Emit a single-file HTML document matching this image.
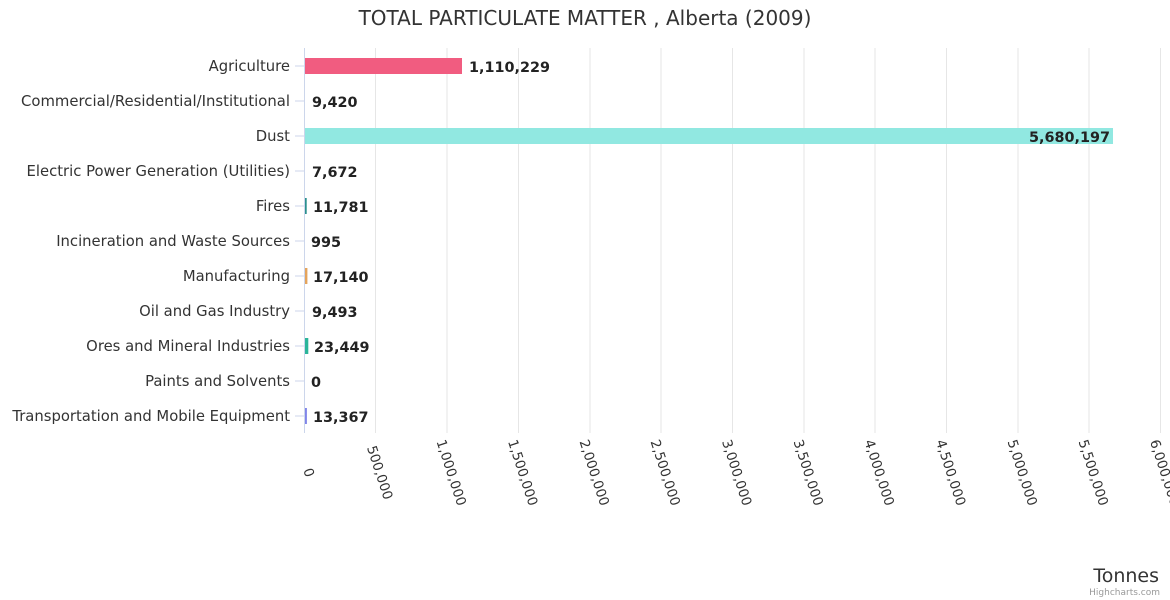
<!DOCTYPE html>
<html><head><style>body{margin:0;background:#fff}svg{display:block}text{font-family:"DejaVu Sans","Liberation Sans",sans-serif}</style></head><body>
<svg width="1170" height="600" xmlns="http://www.w3.org/2000/svg">
<text x="585" y="25" text-anchor="middle" font-size="20" fill="#333">TOTAL PARTICULATE MATTER , Alberta (2009)</text>
<g stroke="#e6e6e6" stroke-width="1">
<line x1="375.5" y1="48" x2="375.5" y2="433"/><line x1="447" y1="48" x2="447" y2="433"/><line x1="518.5" y1="48" x2="518.5" y2="433"/><line x1="590" y1="48" x2="590" y2="433"/><line x1="661" y1="48" x2="661" y2="433"/><line x1="732.5" y1="48" x2="732.5" y2="433"/><line x1="804" y1="48" x2="804" y2="433"/><line x1="875" y1="48" x2="875" y2="433"/><line x1="946.5" y1="48" x2="946.5" y2="433"/><line x1="1018" y1="48" x2="1018" y2="433"/><line x1="1089" y1="48" x2="1089" y2="433"/><line x1="1160.5" y1="48" x2="1160.5" y2="433"/>
</g>
<line x1="304.5" y1="48" x2="304.5" y2="433" stroke="#ccd6eb"/>
<g stroke="#ccd6eb"><line x1="295" y1="66" x2="304" y2="66"/><line x1="295" y1="101" x2="304" y2="101"/><line x1="295" y1="136" x2="304" y2="136"/><line x1="295" y1="171" x2="304" y2="171"/><line x1="295" y1="206" x2="304" y2="206"/><line x1="295" y1="241" x2="304" y2="241"/><line x1="295" y1="276" x2="304" y2="276"/><line x1="295" y1="311" x2="304" y2="311"/><line x1="295" y1="346" x2="304" y2="346"/><line x1="295" y1="381" x2="304" y2="381"/><line x1="295" y1="416" x2="304" y2="416"/></g>
<g font-size="14.8" fill="#333" text-anchor="end">
<text x="290" y="71">Agriculture</text><text x="290" y="106" textLength="269" lengthAdjust="spacingAndGlyphs">Commercial/Residential/Institutional</text><text x="290" y="141">Dust</text><text x="290" y="176">Electric Power Generation (Utilities)</text><text x="290" y="211">Fires</text><text x="290" y="246">Incineration and Waste Sources</text><text x="290" y="281">Manufacturing</text><text x="290" y="316">Oil and Gas Industry</text><text x="290" y="351">Ores and Mineral Industries</text><text x="290" y="386">Paints and Solvents</text><text x="290" y="421">Transportation and Mobile Equipment</text>
</g>
<rect x="305" y="58" width="157" height="16" fill="#f15c80"/>
<rect x="305" y="128" width="808" height="16" fill="#91e8e1"/>
<rect x="305" y="198" width="1.7" height="16" fill="#2b908f"/>
<rect x="305" y="268" width="2.4" height="16" fill="#e4a45c"/>
<rect x="305" y="338" width="3.3" height="16" fill="#2bb59a"/>
<rect x="305" y="408" width="1.9" height="16" fill="#8085e9"/>
<g font-size="14.4" font-weight="bold" fill="#222">
<text x="469" y="72">1,110,229</text><text x="312" y="107">9,420</text><text x="1110" y="142" text-anchor="end">5,680,197</text><text x="312" y="177">7,672</text><text x="313" y="212">11,781</text><text x="311" y="247">995</text><text x="313" y="282">17,140</text><text x="312" y="317">9,493</text><text x="314" y="352">23,449</text><text x="311" y="387">0</text><text x="313" y="422">13,367</text>
</g>
<g font-size="13.5" fill="#333" text-anchor="middle">
<text transform="translate(304.5,474) rotate(72)">0</text>
<text transform="translate(375.5,474) rotate(72)">500,000</text>
<text transform="translate(447,474) rotate(72)">1,000,000</text>
<text transform="translate(518.5,474) rotate(72)">1,500,000</text>
<text transform="translate(590,474) rotate(72)">2,000,000</text>
<text transform="translate(661,474) rotate(72)">2,500,000</text>
<text transform="translate(732.5,474) rotate(72)">3,000,000</text>
<text transform="translate(804,474) rotate(72)">3,500,000</text>
<text transform="translate(875,474) rotate(72)">4,000,000</text>
<text transform="translate(946.5,474) rotate(72)">4,500,000</text>
<text transform="translate(1018,474) rotate(72)">5,000,000</text>
<text transform="translate(1089,474) rotate(72)">5,500,000</text>
<text transform="translate(1160.5,474) rotate(72)">6,000,000</text>
</g>
<text x="1159" y="582" text-anchor="end" font-size="19" fill="#333">Tonnes</text>
<text x="1160" y="595" text-anchor="end" font-size="9" fill="#999">Highcharts.com</text>
</svg>
</body></html>
